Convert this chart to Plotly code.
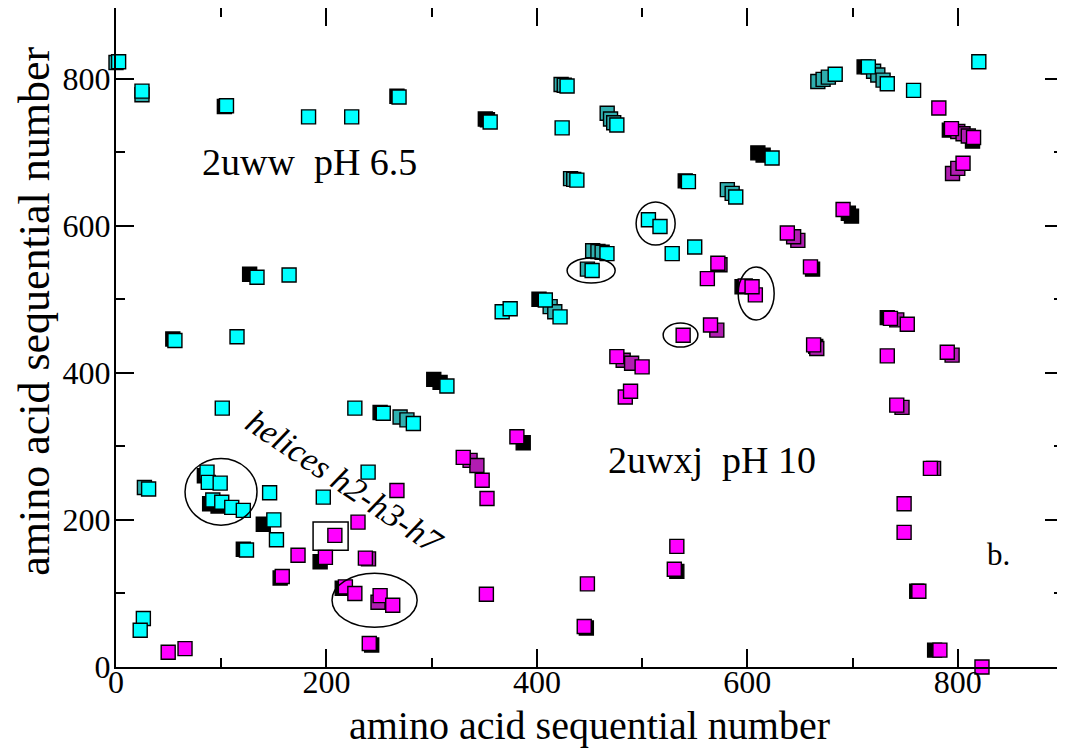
import plotly.graph_objects as go

# ---- data ----
# black squares (stacked under coloured ones)
black_x = [103, 267, 353, 351, 711, 610, 615, 541, 402, 302, 308, 251, 140, 121, 84, 89, 97, 127, 54,
           792, 814, 699, 696, 595, 662, 733, 665, 761, 778, 387, 194, 156, 215, 243, 447, 533]
black_y = [762, 776, 744, 745, 816, 699, 696, 661, 500, 391, 387, 346, 194, 160, 260, 222, 219, 534, 446,
           730, 715, 613, 617, 517, 541, 475, 436, 103, 23, 305, 143, 121, 107, 30, 53, 130]

# 2uww pH 6.5 (cyan) - squares partly hidden at the back of stacks
cyan_back_x = [0, 24.7, 423, 426, 466.8, 470, 473, 432, 435, 453, 458, 462, 667, 672, 677,
               720, 724, 729, 581, 585.6, 448, 412.6, 417, 270, 276.5, 27]
cyan_back_y = [822, 778, 792, 791, 753, 745, 740, 664, 663, 566, 565, 564, 796, 799, 802,
               810, 805, 798, 649, 644, 541, 490, 483, 340, 336, 244]
# 2uww pH 6.5 (cyan) - front squares
cyan_x = [2.5, 24.7, 105, 183, 224, 269, 355.6, 428.7, 424, 476, 438, 544, 506, 517, 550, 528.6,
          466.6, 683.5, 715, 733, 758, 820, 623.5, 589, 452.5, 367, 374.6, 408, 422, 314.5,
          227, 254, 282.6, 239.6, 197, 150, 152.5, 124, 31, 86.5, 87.7, 99, 92, 100.5, 110, 121,
          146, 101, 134, 164.5, 56, 115, 26, 23]
cyan_y = [823, 783, 763, 748, 748, 775, 741, 790, 733, 737, 662, 660, 608, 599, 571, 562,
          562, 806, 816, 793, 784, 823, 692, 639, 539, 483, 487, 499, 476, 382,
          352, 345, 331, 265, 231, 200, 173, 159, 242, 265, 251, 250, 227, 224, 217, 213,
          237, 352, 530, 533, 444, 449, 66, 50]

# 2uwxj pH 10 (magenta) - squares partly hidden at the back of stacks
magenta_back_x = [800, 805, 810, 795, 800, 648, 644, 574, 742, 482, 490, 336.5, 343, 666,
                  794.6, 747, 777, 249, 240, 571]
magenta_back_y = [728, 725, 722, 671, 678, 580, 585, 547, 472, 417, 413, 281, 274, 433,
                  424, 353, 270, 88, 147, 458]
# 2uwxj pH 10 (magenta) - front squares
magenta_x = [782, 794, 815, 805, 691, 638, 572, 562, 598, 607.6, 604.5, 660, 752, 736, 565,
             663, 733, 790, 742, 774, 749, 749, 763, 783, 823, 539, 476, 500, 484, 489,
             381, 330, 348, 267, 352.6, 230, 208, 173, 199, 237, 158, 218, 227, 251, 263,
             352, 240.7, 448, 445, 533, 530.6, 49.6, 65.6]
magenta_y = [760, 732, 720, 685, 622, 590, 549, 528, 518, 506, 517, 544, 466, 474, 465,
             438, 423, 428, 356, 270, 222, 183, 103, 23, 0, 451, 422, 408, 367, 375,
             313, 285, 254, 240, 229, 197, 179, 152, 149, 148, 123, 109, 100, 97, 84,
             99, 32, 113, 55, 164, 133, 20, 25]

x_ticks = [0, 200, 400, 600, 800]
y_ticks = [0, 200, 400, 600, 800]
axis_title = "amino acid sequential number"

FONT = "Liberation Serif, Times New Roman, serif"

fig = go.Figure()
marker_line = dict(color="black", width=1.4)


def add_squares(xs, ys, colour, name):
    fig.add_trace(go.Scatter(x=xs, y=ys, mode="markers", name=name,
                             marker=dict(symbol="square", size=14, color=colour, line=marker_line),
                             cliponaxis=False, showlegend=False))


add_squares(black_x, black_y, "black", "overlap")
add_squares(cyan_back_x, cyan_back_y, "#2FAFAF", "2uww pH 6.5 (stacked)")
add_squares(magenta_back_x, magenta_back_y, "#B21DB2", "2uwxj pH 10 (stacked)")
add_squares(cyan_x, cyan_y, "#00FFFF", "2uww pH 6.5")
add_squares(magenta_x, magenta_y, "#FF00FF", "2uwxj pH 10")

axis_common = dict(
    showgrid=False, zeroline=False, showline=True, linecolor="black", linewidth=2,
    mirror="allticks", ticks="inside", ticklen=18, tickwidth=2, tickcolor="black",
    minor=dict(ticks="inside", ticklen=9, tickwidth=2, tickcolor="black", dtick=100),
    tickfont=dict(family=FONT, size=32, color="black"),
)
fig.update_xaxes(range=[0, 900], tickvals=x_ticks, ticktext=[str(v) for v in x_ticks],
                 ticklabelstandoff=-14, **axis_common)
fig.update_yaxes(range=[0, 896], tickvals=y_ticks, ticktext=[str(v) for v in y_ticks],
                 ticklabelstandoff=-3, **axis_common)

# axis titles
fig.add_annotation(x=0.5, y=-0.089, xref="paper", yref="paper", text=axis_title, showarrow=False,
                   xanchor="center", yanchor="middle", font=dict(family=FONT, size=40, color="black"))
fig.add_annotation(x=-0.0855, y=0.539, xref="paper", yref="paper", text=axis_title, showarrow=False,
                   textangle=-90, xanchor="center", yanchor="middle",
                   font=dict(family=FONT, size=44, color="black"))

ann_font = dict(family=FONT, size=38, color="black")
fig.add_annotation(x=80, y=686, text="2uww\u00a0\u00a0pH 6.5", showarrow=False, xanchor="left",
                   yanchor="middle", font=ann_font)
fig.add_annotation(x=466, y=282, text="2uwxj\u00a0\u00a0pH 10", showarrow=False, xanchor="left",
                   yanchor="middle", font=ann_font)
fig.add_annotation(x=826, y=153, text="b.", showarrow=False, xanchor="left", yanchor="middle",
                   font=dict(family=FONT, size=31, color="black"))
fig.add_annotation(x=218, y=251, text="<i>helices h2-h3-h7</i>", showarrow=False, textangle=34,
                   font=dict(family=FONT, size=34, color="black"))

line = dict(color="black", width=1.5)
fig.add_shape(type="circle", x0=65.6, x1=134, y0=192.8, y1=283.6, line=line)
fig.add_shape(type="circle", x0=428.7, x1=474.4, y0=522, y1=556, line=line)
fig.add_shape(type="circle", x0=494.3, x1=531.4, y0=573.8, y1=632.3, line=line)
fig.add_shape(type="circle", x0=520, x1=553, y0=435, y1=467.7, line=line)
fig.add_shape(type="circle", x0=591.3, x1=625.5, y0=471.8, y1=543.9, line=line)
fig.add_shape(type="circle", x0=205.3, x1=286.2, y0=54, y1=127.5, line=line)
fig.add_shape(type="rect", x0=187.3, x1=220.6, y0=158.8, y1=197, line=line)

fig.update_layout(
    width=1057, height=746,
    margin=dict(l=108, r=2, t=0, b=87, autoexpand=False),
    plot_bgcolor="white", paper_bgcolor="white",
    showlegend=False,
)

fig.write_html("out.html")
